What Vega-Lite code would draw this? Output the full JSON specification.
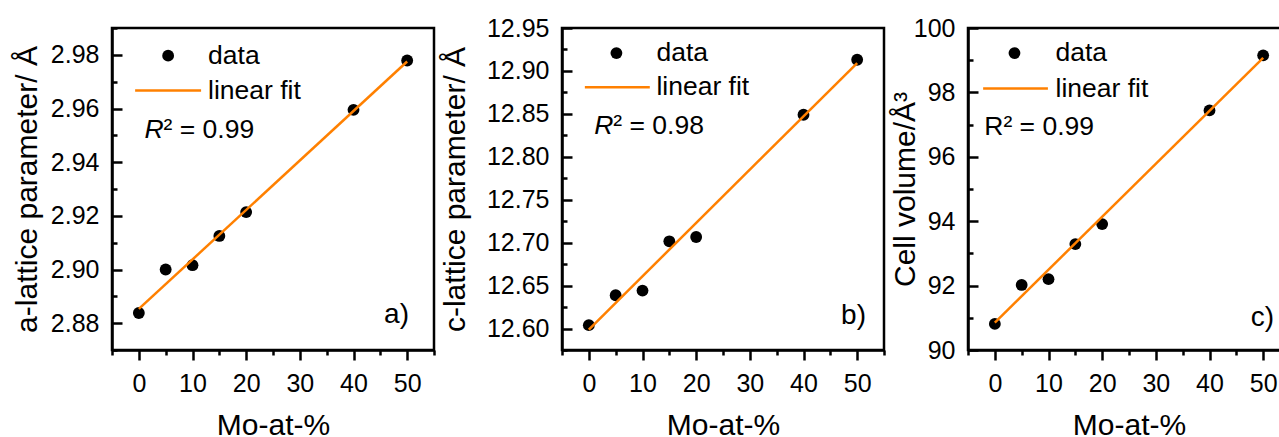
{
  "$schema": "https://vega.github.io/schema/vega-lite/v6.json",
  "padding": {"left": 11, "top": 14, "right": 5, "bottom": 5},
  "background": "white",
  "config": {
    "view": {"stroke": "black", "strokeWidth": 2.5},
    "font": "Liberation Sans",
    "axis": {
      "domainColor": "black", "domainWidth": 2.5, "tickColor": "black", "tickWidth": 2.5,
      "labelFont": "Liberation Sans", "labelFontSize": 25, "labelColor": "black",
      "titleFont": "Liberation Sans", "titleFontSize": 30, "titleFontWeight": "normal", "titleColor": "black",
      "grid": false, "labelFlush": false, "labelOverlap": false
    },
    "text": {"font": "Liberation Sans", "color": "black"}
  },
  "bounds": "flush",
  "spacing": 128,
  "hconcat": [
    {
      "width": 322, "height": 322,
      "resolve": {"axis": {"x": "independent", "y": "independent"}},
      "layer": [
        {
          "data": {"values": [
            {"mo": 0, "a": 2.8838}, {"mo": 5, "a": 2.9000}, {"mo": 10, "a": 2.9016}, {"mo": 15, "a": 2.9125},
            {"mo": 20, "a": 2.9214}, {"mo": 40, "a": 2.9595}, {"mo": 50, "a": 2.9779}
          ]},
          "mark": {"type": "point", "filled": true, "size": 140, "opacity": 1, "color": "#000000"},
          "encoding": {
            "x": {"field": "mo", "type": "quantitative", "scale": {"domain": [-5, 55], "nice": false, "zero": false},
              "axis": {"orient": "bottom", "values": [0, 10, 20, 30, 40, 50], "format": "d", "tickSize": 10,
                "labelPadding": 11, "title": "Mo-at-%", "titlePadding": 14}},
            "y": {"field": "a", "type": "quantitative", "scale": {"domain": [2.87, 2.99], "nice": false, "zero": false},
              "axis": {"orient": "left", "values": [2.88, 2.9, 2.92, 2.94, 2.96, 2.98], "format": ".2f", "tickSize": -10,
                "labelPadding": 23, "title": "a-lattice parameter/ Å", "titlePadding": 8}}
          }
        },
        {
          "data": {"values": [{"mo": 0, "a": 2.8853}, {"mo": 50, "a": 2.9775}]},
          "mark": {"type": "line", "strokeWidth": 2.5, "color": "#FF8000"},
          "encoding": {
            "x": {"field": "mo", "type": "quantitative",
              "axis": {"orient": "bottom", "values": [-5, 5, 15, 25, 35, 45, 55], "tickSize": 5, "labels": false, "domain": false, "title": null}},
            "y": {"field": "a", "type": "quantitative",
              "axis": {"orient": "left", "values": [2.87, 2.89, 2.91, 2.93, 2.95, 2.97, 2.99], "tickSize": -5, "labels": false, "domain": false, "title": null}}
          }
        },
        {
          "data": {"values": [{"s": "data"}]},
          "mark": {"type": "point", "filled": true, "size": 140, "opacity": 1, "color": "#000000"},
          "encoding": {"x": {"datum": 5.46, "axis": null}, "y": {"datum": 2.9797, "axis": null}}
        },
        {
          "data": {"values": [{"s": "linear fit"}]},
          "mark": {"type": "rule", "strokeWidth": 2.5, "color": "#FF8000"},
          "encoding": {"x": {"datum": -0.69, "axis": null}, "x2": {"datum": 11.6}, "y": {"datum": 2.9667, "axis": null}}
        },
        {
          "data": {"values": [{"t": "data"}]},
          "mark": {"type": "text", "fontSize": 26.5, "align": "left", "baseline": "middle"},
          "encoding": {"text": {"field": "t"}, "x": {"datum": 12.9, "axis": null}, "y": {"datum": 2.9797, "axis": null}}
        },
        {
          "data": {"values": [{"t": "linear fit"}]},
          "mark": {"type": "text", "fontSize": 26.5, "align": "left", "baseline": "middle"},
          "encoding": {"text": {"field": "t"}, "x": {"datum": 12.9, "axis": null}, "y": {"datum": 2.9667, "axis": null}}
        },
        {
          "data": {"values": [{"t": "R"}]},
          "mark": {"type": "text", "fontSize": 26.5, "fontStyle": "italic", "align": "right", "baseline": "middle"},
          "encoding": {"text": {"field": "t"}, "x": {"datum": 4.6, "axis": null}, "y": {"datum": 2.952, "axis": null}}
        },
        {
          "data": {"values": [{"t": "² = 0.99"}]},
          "mark": {"type": "text", "fontSize": 26.5, "align": "left", "baseline": "middle"},
          "encoding": {"text": {"field": "t"}, "x": {"datum": 4.6, "axis": null}, "y": {"datum": 2.952, "axis": null}}
        },
        {
          "data": {"values": [{"t": "a)"}]},
          "mark": {"type": "text", "fontSize": 28, "align": "left", "baseline": "middle"},
          "encoding": {"text": {"field": "t"}, "x": {"datum": 45.7, "axis": null}, "y": {"datum": 2.883, "axis": null}}
        }
      ]
    },
    {
      "bounds": "flush",
      "spacing": 84,
      "hconcat": [
        {
          "width": 322, "height": 322,
          "resolve": {"axis": {"x": "independent", "y": "independent"}},
          "layer": [
            {
              "data": {"values": [
                {"mo": 0, "c": 12.6039}, {"mo": 5, "c": 12.6388}, {"mo": 10, "c": 12.6442}, {"mo": 15, "c": 12.7016},
                {"mo": 20, "c": 12.7066}, {"mo": 40, "c": 12.849}, {"mo": 50, "c": 12.913}
              ]},
              "mark": {"type": "point", "filled": true, "size": 140, "opacity": 1, "color": "#000000"},
              "encoding": {
                "x": {"field": "mo", "type": "quantitative", "scale": {"domain": [-5, 55], "nice": false, "zero": false},
                  "axis": {"orient": "bottom", "values": [0, 10, 20, 30, 40, 50], "format": "d", "tickSize": 10,
                    "labelPadding": 11, "title": "Mo-at-%", "titlePadding": 14}},
                "y": {"field": "c", "type": "quantitative", "scale": {"domain": [12.575, 12.95], "nice": false, "zero": false},
                  "axis": {"orient": "left", "values": [12.6, 12.65, 12.7, 12.75, 12.8, 12.85, 12.9, 12.95], "format": ".2f", "tickSize": -10,
                    "labelPadding": 23, "title": "c-lattice parameter/ Å", "titlePadding": 16}}
              }
            },
            {
              "data": {"values": [{"mo": 0, "c": 12.5988}, {"mo": 50, "c": 12.9092}]},
              "mark": {"type": "line", "strokeWidth": 2.5, "color": "#FF8000"},
              "encoding": {
                "x": {"field": "mo", "type": "quantitative",
                  "axis": {"orient": "bottom", "values": [-5, 5, 15, 25, 35, 45, 55], "tickSize": 5, "labels": false, "domain": false, "title": null}},
                "y": {"field": "c", "type": "quantitative",
                  "axis": {"orient": "left", "values": [12.575, 12.625, 12.675, 12.725, 12.775, 12.825, 12.875, 12.925], "tickSize": -5, "labels": false, "domain": false, "title": null}}
              }
            },
            {
              "data": {"values": [{"s": "data"}]},
              "mark": {"type": "point", "filled": true, "size": 140, "opacity": 1, "color": "#000000"},
              "encoding": {"x": {"datum": 5.14, "axis": null}, "y": {"datum": 12.9208, "axis": null}}
            },
            {
              "data": {"values": [{"s": "linear fit"}]},
              "mark": {"type": "rule", "strokeWidth": 2.5, "color": "#FF8000"},
              "encoding": {"x": {"datum": -0.74, "axis": null}, "x2": {"datum": 11.36}, "y": {"datum": 12.8809, "axis": null}}
            },
            {
              "data": {"values": [{"t": "data"}]},
              "mark": {"type": "text", "fontSize": 26.5, "align": "left", "baseline": "middle"},
              "encoding": {"text": {"field": "t"}, "x": {"datum": 12.59, "axis": null}, "y": {"datum": 12.9208, "axis": null}}
            },
            {
              "data": {"values": [{"t": "linear fit"}]},
              "mark": {"type": "text", "fontSize": 26.5, "align": "left", "baseline": "middle"},
              "encoding": {"text": {"field": "t"}, "x": {"datum": 12.59, "axis": null}, "y": {"datum": 12.8809, "axis": null}}
            },
            {
              "data": {"values": [{"t": "R"}]},
              "mark": {"type": "text", "fontSize": 26.5, "fontStyle": "italic", "align": "right", "baseline": "middle"},
              "encoding": {"text": {"field": "t"}, "x": {"datum": 4.56, "axis": null}, "y": {"datum": 12.8355, "axis": null}}
            },
            {
              "data": {"values": [{"t": "² = 0.98"}]},
              "mark": {"type": "text", "fontSize": 26.5, "align": "left", "baseline": "middle"},
              "encoding": {"text": {"field": "t"}, "x": {"datum": 4.56, "axis": null}, "y": {"datum": 12.8355, "axis": null}}
            },
            {
              "data": {"values": [{"t": "b)"}]},
              "mark": {"type": "text", "fontSize": 28, "align": "left", "baseline": "middle"},
              "encoding": {"text": {"field": "t"}, "x": {"datum": 47.0, "axis": null}, "y": {"datum": 12.6143, "axis": null}}
            }
          ]
        },
        {
          "width": 322, "height": 322,
          "resolve": {"axis": {"x": "independent", "y": "independent"}},
          "layer": [
            {
              "data": {"values": [
                {"mo": 0, "v": 90.81}, {"mo": 5, "v": 92.02}, {"mo": 10, "v": 92.2}, {"mo": 15, "v": 93.29},
                {"mo": 20, "v": 93.91}, {"mo": 40, "v": 97.44}, {"mo": 50, "v": 99.15}
              ]},
              "mark": {"type": "point", "filled": true, "size": 140, "opacity": 1, "color": "#000000"},
              "encoding": {
                "x": {"field": "mo", "type": "quantitative", "scale": {"domain": [-5, 55], "nice": false, "zero": false},
                  "axis": {"orient": "bottom", "values": [0, 10, 20, 30, 40, 50], "format": "d", "tickSize": 10,
                    "labelPadding": 11, "title": "Mo-at-%", "titlePadding": 14}},
                "y": {"field": "v", "type": "quantitative", "scale": {"domain": [90, 100], "nice": false, "zero": false},
                  "axis": {"orient": "left", "values": [90, 92, 94, 96, 98, 100], "format": "d", "tickSize": -10,
                    "labelPadding": 23, "title": "Cell volume/Å³", "titlePadding": -7}}
              }
            },
            {
              "data": {"values": [{"mo": 0, "v": 90.85}, {"mo": 50, "v": 99.07}]},
              "mark": {"type": "line", "strokeWidth": 2.5, "color": "#FF8000"},
              "encoding": {
                "x": {"field": "mo", "type": "quantitative",
                  "axis": {"orient": "bottom", "values": [-5, 5, 15, 25, 35, 45, 55], "tickSize": 5, "labels": false, "domain": false, "title": null}},
                "y": {"field": "v", "type": "quantitative",
                  "axis": {"orient": "left", "values": [91, 93, 95, 97, 99], "tickSize": -5, "labels": false, "domain": false, "title": null}}
              }
            },
            {
              "data": {"values": [{"s": "data"}]},
              "mark": {"type": "point", "filled": true, "size": 140, "opacity": 1, "color": "#000000"},
              "encoding": {"x": {"datum": 3.66, "axis": null}, "y": {"datum": 99.22, "axis": null}}
            },
            {
              "data": {"values": [{"s": "linear fit"}]},
              "mark": {"type": "rule", "strokeWidth": 2.5, "color": "#FF8000"},
              "encoding": {"x": {"datum": -2.18, "axis": null}, "x2": {"datum": 9.89}, "y": {"datum": 98.12, "axis": null}}
            },
            {
              "data": {"values": [{"t": "data"}]},
              "mark": {"type": "text", "fontSize": 26.5, "align": "left", "baseline": "middle"},
              "encoding": {"text": {"field": "t"}, "x": {"datum": 11.31, "axis": null}, "y": {"datum": 99.22, "axis": null}}
            },
            {
              "data": {"values": [{"t": "linear fit"}]},
              "mark": {"type": "text", "fontSize": 26.5, "align": "left", "baseline": "middle"},
              "encoding": {"text": {"field": "t"}, "x": {"datum": 11.31, "axis": null}, "y": {"datum": 98.12, "axis": null}}
            },
            {
              "data": {"values": [{"t": "R"}]},
              "mark": {"type": "text", "fontSize": 26.5, "align": "right", "baseline": "middle"},
              "encoding": {"text": {"field": "t"}, "x": {"datum": 1.6, "axis": null}, "y": {"datum": 96.94, "axis": null}}
            },
            {
              "data": {"values": [{"t": "² = 0.99"}]},
              "mark": {"type": "text", "fontSize": 26.5, "align": "left", "baseline": "middle"},
              "encoding": {"text": {"field": "t"}, "x": {"datum": 1.6, "axis": null}, "y": {"datum": 96.94, "axis": null}}
            },
            {
              "data": {"values": [{"t": "c)"}]},
              "mark": {"type": "text", "fontSize": 28, "align": "left", "baseline": "middle"},
              "encoding": {"text": {"field": "t"}, "x": {"datum": 47.7, "axis": null}, "y": {"datum": 90.98, "axis": null}}
            }
          ]
        }
      ]
    }
  ]
}
